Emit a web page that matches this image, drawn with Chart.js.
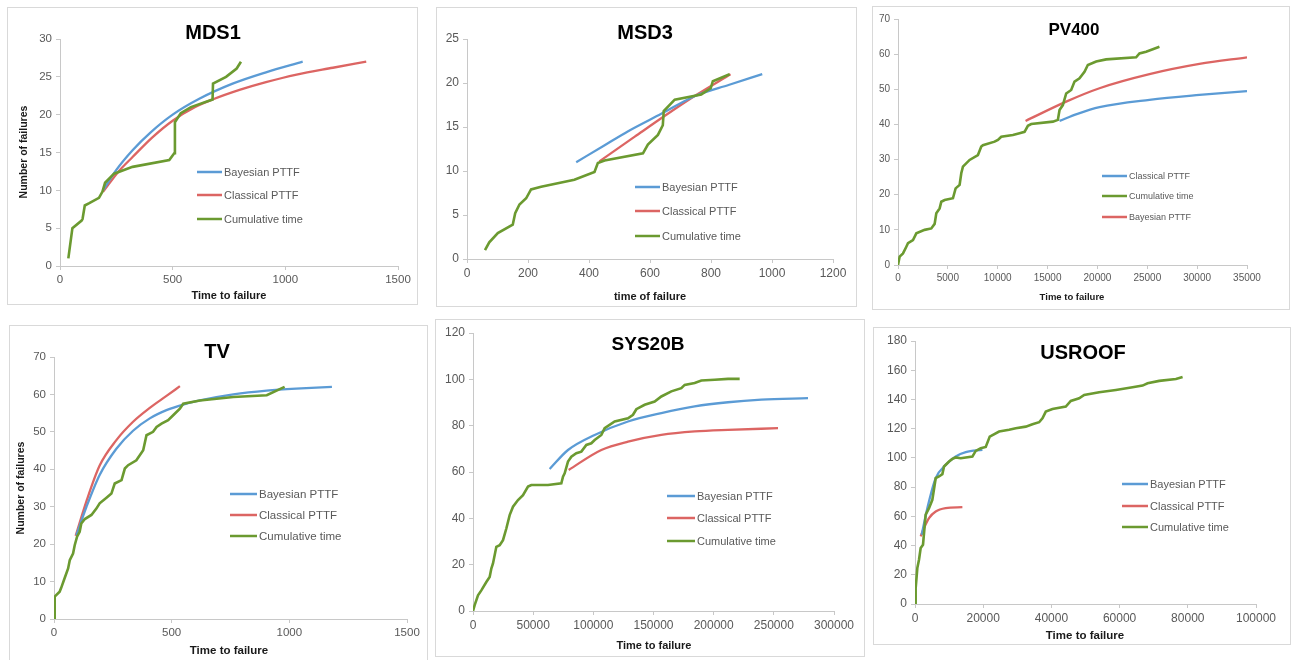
<html>
<head>
<title>PTTF vs cumulative time</title>
<script src="https://cdn.jsdelivr.net/npm/chart.js@4.4.0/dist/chart.umd.min.js"></script>
<style>
  body { margin: 0; background: #fff; }
  canvas { position: absolute; }
</style>
<script>
// ---- data ----
const mds1CumX = [37, 55, 96, 100, 110, 130, 173, 188, 200, 240, 322, 485, 507, 510, 536, 581, 677, 679, 737, 784, 803];
const mds1CumY = [1, 5, 6, 6.2, 8, 8.3, 9, 9.8, 11, 12.2, 13.1, 14, 14.9, 19, 20.2, 21, 22, 24.1, 25, 26.1, 27];
const mds1BayX = [191, 250, 322, 400, 500, 618, 766, 914, 1077];
const mds1BayY = [10, 12.7, 15.3, 17.6, 20, 22.1, 24.1, 25.6, 27];
const mds1ClaX = [191, 260, 322, 410, 500, 600, 677, 800, 914, 1050, 1211, 1359];
const mds1ClaY = [9.8, 12.5, 14.4, 17, 19.2, 21, 22, 23.3, 24.3, 25.3, 26.2, 27];

const msd3CumX = [59, 73, 101, 150, 158, 172, 194, 210, 243, 352, 418, 429, 451, 577, 593, 626, 642, 645, 681, 768, 799, 806, 861];
const msd3CumY = [1, 1.9, 2.95, 3.9, 5.2, 6.2, 6.9, 7.9, 8.2, 9, 9.9, 10.9, 11.2, 12, 13, 14.1, 15.2, 16.8, 18.1, 18.7, 19.4, 20.2, 21];
const msd3BayX = [358, 450, 527, 637, 746, 860, 968];
const msd3BayY = [11, 12.9, 14.5, 16.5, 18.5, 19.8, 21];
const msd3ClaX = [434, 550, 650, 750, 864];
const msd3ClaY = [11.1, 13.9, 16.3, 18.6, 21];

const pv400CumX = [0, 167, 501, 835, 1002, 1503, 1837, 2672, 3340, 3674, 3841, 4175, 4342, 4676, 5511, 5778, 6179, 6346, 6513, 7181, 8016, 8350, 8517, 9686, 10020, 10354, 11523, 12191, 12692, 13026, 13360, 15531, 16032, 16199, 16533, 16867, 17368, 17702, 18203, 18704, 19038, 19873, 20875, 23881, 24215, 24883, 25551, 26219];
const pv400CumY = [0, 2.4, 3.3, 5.2, 6.2, 7.1, 9, 10, 10.4, 11.7, 14.7, 16.1, 18, 18.5, 19, 21.8, 22.8, 26.1, 28, 29.9, 31.3, 33.7, 34.1, 35.1, 35.6, 36.5, 37, 37.5, 37.9, 39.6, 40.1, 40.8, 41.3, 44.1, 45.5, 48.8, 49.8, 52.2, 53.1, 55, 56.9, 57.9, 58.5, 59.1, 60.2, 60.7, 61.4, 62.1];
const pv400ClaX = [16199, 18000, 20207, 25217, 30227, 35000];
const pv400ClaY = [41, 43, 44.9, 47, 48.4, 49.5];
const pv400BayX = [12792, 16867, 20207, 25217, 30227, 35000];
const pv400BayY = [41, 46.5, 50.3, 54.3, 57.2, 59.1];

const tvCumX = [0, 3, 24, 31, 45, 60, 67, 81, 88, 98, 109, 116, 131, 159, 180, 194, 223, 244, 258, 287, 301, 315, 350, 379, 393, 421, 436, 457, 485, 514, 535, 549, 620, 762, 904, 980];
const tvCumY = [0, 6, 7.3, 8.4, 10.9, 13.5, 15.7, 17.5, 19.7, 22, 23.3, 25.5, 26.7, 27.8, 29.5, 30.9, 32.4, 33.5, 36.2, 37.1, 40.2, 41.1, 42.4, 45.1, 49.1, 50, 51.3, 52.2, 53.1, 54.9, 56.2, 57.5, 58.4, 59.3, 59.8, 62];
const tvBayX = [95, 138, 194, 265, 336, 407, 478, 549, 620, 762, 904, 1050, 1181];
const tvBayY = [22.4, 30, 38.5, 45.5, 50.3, 53.6, 55.8, 57.3, 58.4, 60, 61, 61.6, 62];
const tvClaX = [92, 138, 194, 265, 336, 407, 478, 535];
const tvClaY = [22.2, 31.5, 41, 47.8, 52.7, 56.4, 59.6, 62.2];

const sysCumX = [0, 1385, 4155, 6925, 11080, 13850, 15235, 16620, 19391, 22161, 24931, 27701, 30471, 33241, 37396, 41551, 45706, 48476, 62327, 73407, 74792, 76177, 78947, 81717, 85873, 90028, 94183, 98338, 101108, 106648, 109418, 117729, 128809, 132964, 135734, 142659, 150970, 156510, 164820, 173130, 175900, 184211, 189751, 200831, 211911, 221607];
const sysCumY = [0, 2.5, 6.8, 8.9, 12.5, 14.7, 18.3, 20.5, 27.7, 28.4, 30.6, 35.6, 41.4, 45, 47.9, 50, 53.7, 54.4, 54.4, 55.1, 58, 59.4, 64.5, 66.6, 68.1, 68.8, 71.7, 72.4, 73.8, 76, 78.9, 81.8, 83.2, 84.7, 87.1, 89, 90.4, 92.6, 94.8, 96.2, 97.6, 98.4, 99.5, 99.8, 100.2, 100.2];
const sysBayX = [63712, 78947, 101108, 128809, 156510, 184211, 211911, 239612, 278393];
const sysBayY = [61.3, 69.5, 76, 81.8, 85.4, 88.3, 90.1, 91.2, 91.9];
const sysClaX = [79501, 106648, 128809, 156510, 184211, 211911, 253463];
const sysClaY = [60.9, 69.5, 73.1, 76, 77.5, 78.2, 78.9];

const roofCumX = [0, 196, 685, 1174, 1663, 2348, 3131, 4110, 5088, 6067, 7045, 8023, 8513, 9980, 10959, 11937, 13405, 16830, 17808, 19276, 20744, 21918, 24658, 27593, 29550, 32485, 34442, 36399, 37378, 38356, 40313, 44227, 45695, 48141, 49609, 54012, 58904, 63796, 66732, 68200, 71624, 76517, 78474];
const roofCumY = [0, 10.9, 24.6, 30.3, 38.3, 40.6, 61.1, 65.6, 71.3, 86.1, 87.3, 88.9, 94.1, 97.5, 99.3, 100.3, 99.8, 100.9, 104.8, 106.6, 107.5, 114.6, 118, 119.2, 120.3, 121.4, 123, 124.4, 127.1, 131.7, 133.5, 135.1, 139, 140.8, 143.1, 144.9, 146.5, 148.3, 149.5, 151.1, 152.7, 154, 155.4];
const roofBayX = [1957, 3620, 6067, 9002, 11937, 14873, 19765];
const roofBayY = [47.4, 65.6, 86.1, 95.2, 100.9, 103.9, 105.5];
const roofClaX = [1663, 2642, 4110, 6067, 9002, 13894];
const roofClaY = [46.3, 52, 58.8, 63.3, 65.6, 66.3];

// ---- look ----
const FONT = "'Liberation Sans', Arial, sans-serif";
const BLUE = '#5b9bd5';
const RED = '#dc6563';
const GREEN = '#6b9a30';

function pts(xs, ys) {
  return xs.map(function (x, i) { return { x: x, y: ys[i] }; });
}

function bay(x, y) { return { label: 'Bayesian PTTF', x: x, y: y }; }
function cla(x, y) { return { label: 'Classical PTTF', x: x, y: y }; }
function cum(x, y) { return { label: 'Cumulative time', color: GREEN, cum: true, x: x, y: y }; }

const panels = [
  { box: [7, 7, 411, 298], plot: [60, 39, 398, 266], xMax: 1500, xStep: 500, yMax: 30, yStep: 5, tick: 11.5,
    title: 'MDS1', titlePos: [213, 33], titleSize: 20,
    xTitle: 'Time to failure', xTitlePos: [229, 296], axisSize: 11,
    yTitle: 'Number of failures', yTitlePos: [24, 152], yTitleSize: 10.5,
    legend: { x: 197, len: 25, rows: [172, 195, 219], size: 11 },
    series: [Object.assign(bay(mds1BayX, mds1BayY), { color: BLUE }), Object.assign(cla(mds1ClaX, mds1ClaY), { color: RED }), cum(mds1CumX, mds1CumY)] },
  { box: [436, 7, 421, 300], plot: [467, 39, 833, 259], xMax: 1200, xStep: 200, yMax: 25, yStep: 5, tick: 12,
    title: 'MSD3', titlePos: [645, 33], titleSize: 20,
    xTitle: 'time of failure', xTitlePos: [650, 297], axisSize: 11,
    legend: { x: 635, len: 25, rows: [187, 211, 236], size: 11 },
    series: [Object.assign(bay(msd3BayX, msd3BayY), { color: BLUE }), Object.assign(cla(msd3ClaX, msd3ClaY), { color: RED }), cum(msd3CumX, msd3CumY)] },
  { box: [872, 6, 418, 304], plot: [898, 19, 1247, 265], xMax: 35000, xStep: 5000, yMax: 70, yStep: 10, tick: 10,
    title: 'PV400', titlePos: [1074, 30], titleSize: 17,
    xTitle: 'Time to failure', xTitlePos: [1072, 297], axisSize: 9.5,
    legend: { x: 1102, len: 25, rows: [176, 196, 217], size: 9 },
    series: [Object.assign(cla(pv400ClaX, pv400ClaY), { color: BLUE }), cum(pv400CumX, pv400CumY), Object.assign(bay(pv400BayX, pv400BayY), { color: RED })] },
  { box: [9, 325, 419, 340], plot: [54, 357, 407, 619], xMax: 1500, xStep: 500, yMax: 70, yStep: 10, tick: 11.5,
    title: 'TV', titlePos: [217, 352], titleSize: 20,
    xTitle: 'Time to failure', xTitlePos: [229, 651], axisSize: 11.5,
    yTitle: 'Number of failures', yTitlePos: [21, 488], yTitleSize: 10.5,
    legend: { x: 230, len: 27, rows: [494, 515, 536], size: 11.5 },
    series: [Object.assign(bay(tvBayX, tvBayY), { color: BLUE }), Object.assign(cla(tvClaX, tvClaY), { color: RED }), cum(tvCumX, tvCumY)] },
  { box: [435, 319, 430, 338], plot: [473, 333, 834, 611], xMax: 300000, xStep: 50000, yMax: 120, yStep: 20, tick: 12,
    title: 'SYS20B', titlePos: [648, 345], titleSize: 19,
    xTitle: 'Time to failure', xTitlePos: [654, 646], axisSize: 11,
    legend: { x: 667, len: 28, rows: [496, 518, 541], size: 11 },
    series: [Object.assign(bay(sysBayX, sysBayY), { color: BLUE }), Object.assign(cla(sysClaX, sysClaY), { color: RED }), cum(sysCumX, sysCumY)] },
  { box: [873, 327, 418, 318], plot: [915, 341, 1256, 604], xMax: 100000, xStep: 20000, yMax: 180, yStep: 20, tick: 12,
    title: 'USROOF', titlePos: [1083, 353], titleSize: 20,
    xTitle: 'Time to failure', xTitlePos: [1085, 636], axisSize: 11.5,
    legend: { x: 1122, len: 26, rows: [484, 506, 527], size: 11 },
    series: [Object.assign(bay(roofBayX, roofBayY), { color: BLUE }), Object.assign(cla(roofClaX, roofClaY), { color: RED }), cum(roofCumX, roofCumY)] }
];

function decor(p) {
  const bx = p.box[0], by = p.box[1];
  return {
    id: 'decor',
    beforeDraw: function (chart) {
      const c = chart.ctx;
      c.save();
      c.fillStyle = '#fff';
      c.fillRect(0, 0, chart.width, chart.height);
      c.strokeStyle = '#d9d9d9';
      c.lineWidth = 1;
      c.strokeRect(0.5, 0.5, chart.width - 1, chart.height - 1);
      c.restore();
    },
    afterDraw: function (chart) {
      const c = chart.ctx;
      c.save();
      c.textAlign = 'center';
      c.textBaseline = 'middle';
      c.fillStyle = '#000';
      c.font = 'bold ' + p.titleSize + 'px ' + FONT;
      c.fillText(p.title, p.titlePos[0] - bx, p.titlePos[1] - by);
      c.fillStyle = '#1a1a1a';
      c.font = 'bold ' + p.axisSize + 'px ' + FONT;
      c.fillText(p.xTitle, p.xTitlePos[0] - bx, p.xTitlePos[1] - by);
      if (p.yTitle) {
        c.save();
        c.translate(p.yTitlePos[0] - bx, p.yTitlePos[1] - by);
        c.rotate(-Math.PI / 2);
        c.font = 'bold ' + p.yTitleSize + 'px ' + FONT;
        c.fillText(p.yTitle, 0, 0);
        c.restore();
      }
      // legend
      const lg = p.legend;
      c.textAlign = 'left';
      c.font = lg.size + 'px ' + FONT;
      p.series.forEach(function (s, i) {
        const y = lg.rows[i] - by;
        c.strokeStyle = s.color;
        c.lineWidth = 2.5;
        c.beginPath();
        c.moveTo(lg.x - bx, y);
        c.lineTo(lg.x - bx + lg.len, y);
        c.stroke();
        c.fillStyle = '#595959';
        c.fillText(s.label, lg.x - bx + lg.len + 2, y + 0.5);
      });
      c.restore();
    }
  };
}

function start() {
  Chart.defaults.font.family = FONT;
  panels.forEach(function (p) {
    const cv = document.createElement('canvas');
    cv.width = p.box[2];
    cv.height = p.box[3];
    cv.style.left = p.box[0] + 'px';
    cv.style.top = p.box[1] + 'px';
    cv.style.width = p.box[2] + 'px';
    cv.style.height = p.box[3] + 'px';
    document.body.appendChild(cv);

    const yw = p.plot[0] - p.box[0];
    const xh = p.box[1] + p.box[3] - p.plot[3];
    const axisColor = '#c8c8c8';

    new Chart(cv, {
      type: 'line',
      data: {
        datasets: p.series.map(function (s) {
          return {
            label: s.label,
            data: pts(s.x, s.y),
            borderColor: s.color,
            borderWidth: s.cum ? 2.6 : 2.3,
            pointRadius: 0,
            fill: false,
            tension: 0,
            cubicInterpolationMode: s.cum ? 'default' : 'monotone',
            order: s.cum ? 0 : 1
          };
        })
      },
      options: {
        responsive: false,
        animation: false,
        devicePixelRatio: 1,
        layout: { padding: { top: p.plot[1] - p.box[1], right: p.box[0] + p.box[2] - p.plot[2], left: 0, bottom: 0 } },
        plugins: { legend: { display: false }, tooltip: { enabled: false } },
        scales: {
          x: {
            type: 'linear', min: 0, max: p.xMax,
            afterFit: function (s) { s.height = xh; },
            grid: { drawOnChartArea: false, drawTicks: true, tickLength: 4, color: axisColor },
            border: { color: axisColor },
            ticks: { stepSize: p.xStep, color: '#595959', font: { size: p.tick }, padding: 3, maxRotation: 0,
              callback: function (v) { return String(v); } }
          },
          y: {
            type: 'linear', min: 0, max: p.yMax,
            afterFit: function (s) { s.width = yw; },
            grid: { drawOnChartArea: false, drawTicks: true, tickLength: 4, color: axisColor },
            border: { color: axisColor },
            ticks: { stepSize: p.yStep, color: '#595959', font: { size: p.tick }, padding: 4,
              callback: function (v) { return String(v); } }
          }
        }
      },
      plugins: [decor(p)]
    });
  });
}
</script>
</head>
<body onload="start()">
</body>
</html>
